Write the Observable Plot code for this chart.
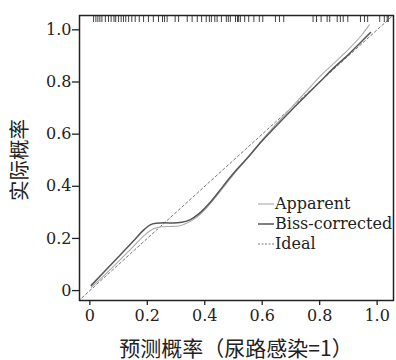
<!DOCTYPE html>
<html>
<head>
<meta charset="utf-8">
<script src="https://cdn.jsdelivr.net/npm/d3@7"></script>
<script src="https://cdn.jsdelivr.net/npm/@observablehq/plot@0.6"></script>
<style>
  html, body { margin: 0; padding: 0; background: #fff; }
  #wrap { position: relative; width: 396px; height: 360px; font-family: "DejaVu Serif", serif; overflow: hidden; }
  #wrap > svg { position: absolute; left: 0; top: 0; }
  .ylab { position: absolute; left: 18px; top: 160px; transform: translate(-50%, -50%) rotate(-90deg); line-height: 1;
          font-family: "Noto Sans CJK SC", sans-serif; font-size: 20.5px; color: #222; white-space: nowrap; }
  .xlab { position: absolute; left: 236px; top: 347px; transform: translate(-50%, -50%); line-height: 1;
          font-family: "Noto Sans CJK SC", sans-serif; font-size: 21px; color: #222; white-space: nowrap; }
  .legend { position: absolute; left: 258px; top: 194px; font-size: 16px; color: #222; line-height: 20px;
            font-family: "DejaVu Serif", serif; }
  .legend .row { display: flex; align-items: center; white-space: nowrap; height: 20px; }
  .legend .row svg { display: block; margin-right: 1px; }
</style>
</head>
<body>
<div id="wrap"></div>
<script>
// ---- data ----
const xTicks = [0, 0.2, 0.4, 0.6, 0.8, 1.0];
const xTickLabels = ["0", "0.2", "0.4", "0.6", "0.8", "1.0"];
const yTicks = [0, 0.2, 0.4, 0.6, 0.8, 1.0];
const yTickLabels = ["0", "0.2", "0.4", "0.6", "0.8", "1.0"];

const apparentX = [0.005, 0.05, 0.10, 0.15, 0.19, 0.22, 0.25, 0.28, 0.31, 0.34, 0.37, 0.40, 0.45, 0.50, 0.55, 0.60, 0.65, 0.70, 0.75, 0.80, 0.85, 0.90, 0.95, 0.973];
const apparentY = [0.012, 0.058, 0.112, 0.168, 0.212, 0.236, 0.245, 0.246, 0.248, 0.26, 0.28, 0.31, 0.375, 0.445, 0.51, 0.578, 0.64, 0.70, 0.76, 0.82, 0.872, 0.925, 0.985, 1.019];

const biasX = [0.005, 0.05, 0.10, 0.15, 0.19, 0.21, 0.23, 0.26, 0.29, 0.32, 0.35, 0.38, 0.42, 0.46, 0.50, 0.55, 0.60, 0.65, 0.70, 0.75, 0.80, 0.85, 0.90, 0.95, 0.977];
const biasY = [0.02, 0.072, 0.13, 0.188, 0.235, 0.252, 0.258, 0.260, 0.259, 0.262, 0.272, 0.295, 0.34, 0.395, 0.45, 0.51, 0.575, 0.633, 0.69, 0.745, 0.80, 0.855, 0.905, 0.96, 0.99];

const idealXY = [-0.04, 1.06];

const rug = [0.013, 0.021, 0.028, 0.035, 0.042, 0.054, 0.065, 0.074, 0.084, 0.090, 0.100, 0.109, 0.117, 0.125, 0.135, 0.146, 0.158, 0.172, 0.187, 0.204, 0.221, 0.239, 0.253, 0.260, 0.269, 0.297, 0.309, 0.339, 0.356, 0.374, 0.389, 0.405, 0.416, 0.423, 0.435, 0.443, 0.458, 0.475, 0.482, 0.489, 0.507, 0.514, 0.518, 0.524, 0.539, 0.553, 0.571, 0.590, 0.602, 0.646, 0.660, 0.675, 0.777, 0.789, 0.805, 0.826, 0.835, 0.861, 0.872, 0.882, 0.898, 0.942, 0.956, 0.967, 1.009, 1.025, 1.035, 1.039];

const seriesNames = ["Apparent", "Biss-corrected", "Ideal"];
const xTitle = "预测概率（尿路感染=1）";
const yTitle = "实际概率";

// ---- build ----
const apparent = apparentX.map((x, i) => ({x, y: apparentY[i]}));
const bias = biasX.map((x, i) => ({x, y: biasY[i]}));
const ideal = idealXY.map(v => ({x: v, y: v}));

const W = 396, H = 360;
const mTop = 15, mBottom = 60, mLeft = 79, mRight = 3;
const frameH = H - mTop - mBottom;
const serif = "'DejaVu Serif', serif";

const chart = Plot.plot({
  width: W, height: H,
  marginTop: mTop, marginBottom: mBottom, marginLeft: mLeft, marginRight: mRight,
  style: {fontFamily: serif, fontSize: "16px", color: "#222", background: "transparent"},
  x: {domain: [-0.036, 1.057]},
  y: {domain: [-0.038, 1.055]},
  marks: [
    Plot.line(ideal, {x: "x", y: "y", stroke: "#777", strokeWidth: 1, strokeDasharray: "2.5,2.5", clip: true}),
    Plot.line(apparent, {x: "x", y: "y", stroke: "#aaa", strokeWidth: 1.1, curve: "monotone-x"}),
    Plot.line(bias, {x: "x", y: "y", stroke: "#555", strokeWidth: 1.5, curve: "monotone-x"}),
    Plot.ruleX(rug, {x: d => d, stroke: "#222", strokeWidth: 1, strokeOpacity: 0.85, insetBottom: frameH - 7, clip: true}),
    Plot.frame({stroke: "#222", strokeWidth: 1.5}),
    Plot.axisX(xTicks, {anchor: "bottom", tickSize: 5, tickPadding: 4, fontSize: 16, fontFamily: serif, label: null,
      tickFormat: d => xTickLabels[xTicks.indexOf(d)], stroke: "#222", strokeWidth: 1.3}),
    Plot.axisY(yTicks, {anchor: "left", tickSize: 7, tickPadding: 1, fontSize: 16, fontFamily: serif, label: null,
      tickFormat: d => yTickLabels[yTicks.indexOf(d)], stroke: "#222", strokeWidth: 1.3})
  ]
});

const wrap = document.getElementById("wrap");
wrap.appendChild(chart);

const yl = document.createElement("div"); yl.className = "ylab"; yl.textContent = yTitle; wrap.appendChild(yl);
const xl = document.createElement("div"); xl.className = "xlab"; xl.textContent = xTitle; wrap.appendChild(xl);

const legendStyles = [
  {stroke: "#aaa", w: 1.1, dash: null},
  {stroke: "#555", w: 1.5, dash: null},
  {stroke: "#777", w: 1, dash: "2,1.5"}
];
const leg = document.createElement("div"); leg.className = "legend";
seriesNames.forEach((name, i) => {
  const s = legendStyles[i];
  const row = document.createElement("div");
  row.className = "row";
  row.innerHTML = `<svg width="16" height="10"><line x1="0" x2="16" y1="5" y2="5" stroke="${s.stroke}" stroke-width="${s.w}" ${s.dash ? `stroke-dasharray="${s.dash}"` : ""}/></svg><span>${name}</span>`;
  leg.appendChild(row);
});
wrap.appendChild(leg);
</script>
</body>
</html>
